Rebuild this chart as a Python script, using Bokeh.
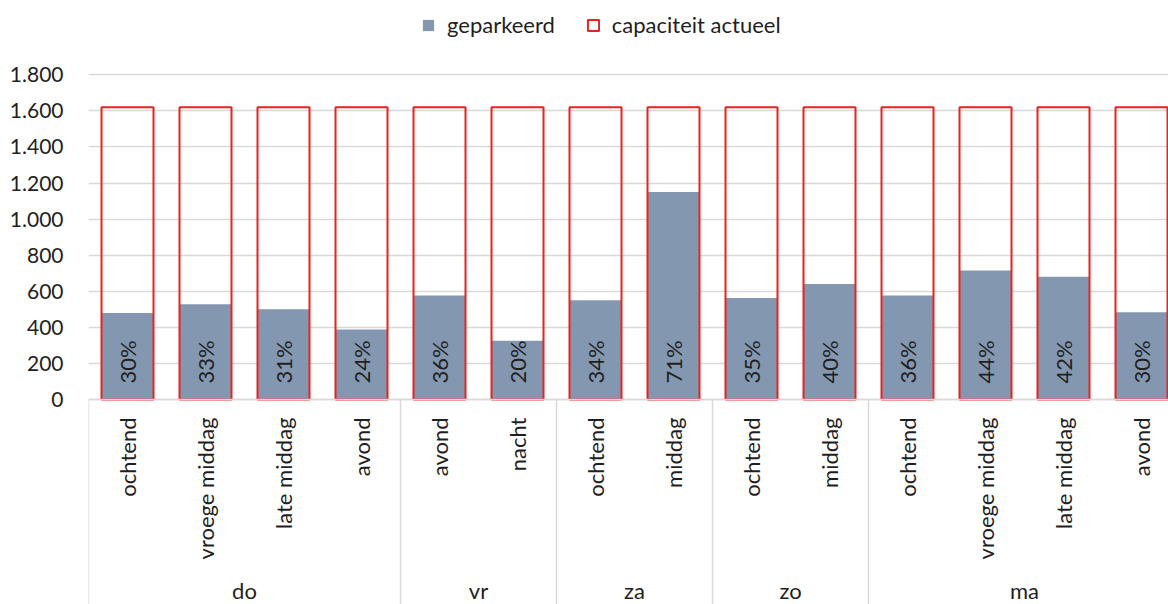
import numpy as np
from bokeh.plotting import figure
from bokeh.models import Range1d, FixedTicker, Legend, LegendItem, Span
from bokeh.core.properties import value
from bokeh.embed import file_html
from bokeh.resources import INLINE

# ---- data ----
days = ["do", "vr", "za", "zo", "ma"]
day_sizes = [4, 2, 2, 2, 4]
periods = ["ochtend", "vroege middag", "late middag", "avond",
           "avond", "nacht",
           "ochtend", "middag",
           "ochtend", "middag",
           "ochtend", "vroege middag", "late middag", "avond"]
geparkeerd = [480, 528, 501, 388, 577, 325, 550, 1150, 563, 640, 577, 715, 680, 484]
capaciteit = [1620] * 14
pct_labels = ["30%", "33%", "31%", "24%", "36%", "20%", "34%", "71%",
              "35%", "40%", "36%", "44%", "42%", "30%"]
y_ticks = [0, 200, 400, 600, 800, 1000, 1200, 1400, 1600, 1800]
y_tick_labels = ["0", "200", "400", "600", "800", "1.000", "1.200", "1.400", "1.600", "1.800"]

# ---- layout ----
FONT = "Lato"
FS = "22px"
TXT = "#1f1f1f"
GRID = "#D9D9D9"
BLUE = "#8497B0"
RED = "#E8231F"

W, H, LEFT = 1168, 604, 88
cat_px = 78.0
frame_w = W - LEFT
x_start = -0.5
x_end = x_start + frame_w / cat_px

zero_px = 399.0   # from top of figure
top_px = 74.3     # 1800 position
ppu = (zero_px - top_px) / 1800.0
y_end = 1800 + top_px / ppu
y_start = -(H - zero_px) / ppu

xs = np.arange(len(periods))

p = figure(width=W, height=H, output_backend="svg", toolbar_location=None,
           x_range=Range1d(x_start, x_end), y_range=Range1d(y_start, y_end),
           x_axis_location=None, min_border_left=LEFT, min_border_right=0,
           min_border_top=0, min_border_bottom=0)
p.outline_line_color = None
p.background_fill_color = "white"
p.border_fill_color = "white"

p.xgrid.visible = False
p.ygrid.ticker = FixedTicker(ticks=y_ticks)
p.ygrid.grid_line_color = GRID
p.ygrid.grid_line_width = 1.5

ax = p.yaxis[0]
ax.ticker = FixedTicker(ticks=y_ticks)
ax.major_label_overrides = {t: l for t, l in zip(y_ticks, y_tick_labels)}
ax.axis_line_color = None
ax.major_tick_line_color = None
ax.minor_tick_line_color = None
ax.major_tick_out = 0
ax.major_tick_in = 0
ax.major_label_standoff = 25
ax.major_label_text_font = FONT
ax.major_label_text_font_size = "21px"
ax.major_label_text_color = TXT

bw = 52 / cat_px
r_park = p.vbar(x=xs, top=geparkeerd, bottom=0, width=bw, fill_color=BLUE, line_color=None)
r_cap = p.vbar(x=xs, top=capaciteit, bottom=0, width=bw, fill_color=None,
               line_color=RED, line_width=2)

p.add_layout(Span(location=0, dimension="width", line_color=GRID, line_width=1.5))

# percentage labels inside base
p.text(x=xs, y=[0] * len(xs), text=pct_labels, angle=np.pi / 2, y_offset=-16,
       text_align="left", text_baseline="middle",
       text_font=value(FONT), text_font_size=FS, text_color=TXT)

# sub-category labels
p.text(x=xs, y=[0] * len(xs), text=periods, angle=np.pi / 2, y_offset=18,
       text_align="right", text_baseline="middle",
       text_font=value(FONT), text_font_size=FS, text_color=TXT)

# group labels and separators
bounds = x_start + np.concatenate([[0], np.cumsum(day_sizes)])
centers = (bounds[:-1] + bounds[1:]) / 2
p.text(x=centers, y=[0] * len(centers), text=days, y_offset=204,
       text_align="center", text_baseline="bottom",
       text_font=value(FONT), text_font_size=FS, text_color=TXT)
p.segment(x0=bounds, y0=[0] * len(bounds), x1=bounds, y1=[y_start] * len(bounds),
          line_color=GRID, line_width=1.5)

legend = Legend(items=[LegendItem(label="geparkeerd", renderers=[r_park]),
                       LegendItem(label="capaciteit actueel", renderers=[r_cap])],
                orientation="horizontal", location=(333, 566),
                border_line_color=None, background_fill_alpha=0,
                glyph_width=14, glyph_height=14, label_standoff=12, spacing=31,
                padding=0, margin=0,
                label_text_font=FONT, label_text_font_size=FS, label_text_color=TXT)
p.add_layout(legend)

open("out.html", "w").write(file_html(p, INLINE))
